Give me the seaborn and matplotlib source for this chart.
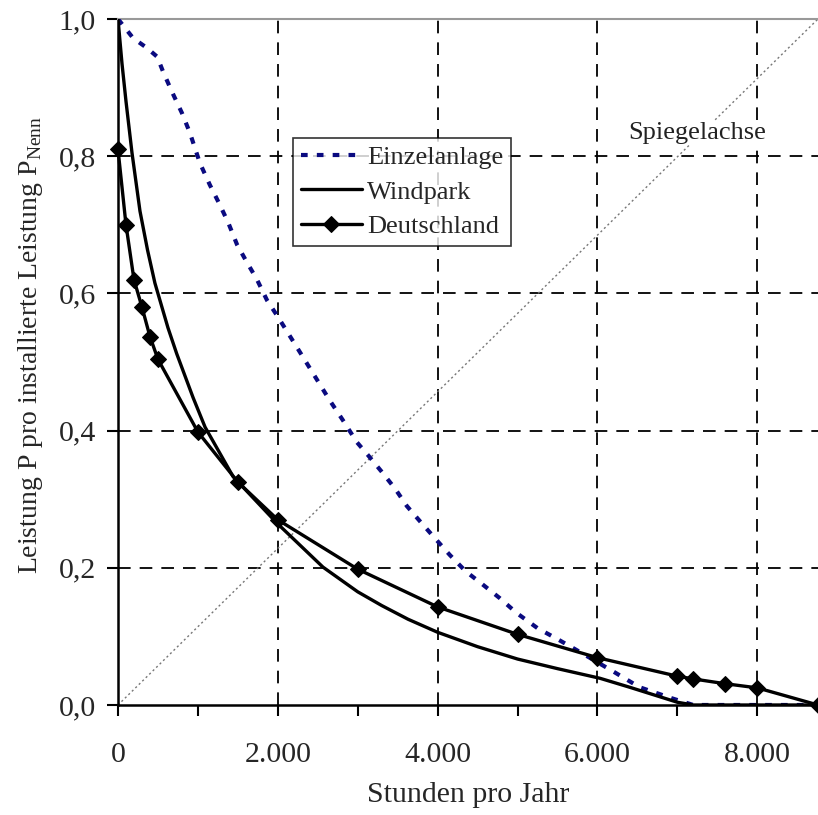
import numpy as np
import pandas as pd
import matplotlib
matplotlib.use('Agg')
import matplotlib.pyplot as plt
import seaborn as sns

# Daten
einzel_h = [0, 190, 360, 490, 565, 675, 800, 900, 1025, 1150, 1275, 1380, 1490, 1610, 1740,
            1865, 2000, 2300, 2650, 2815, 2990, 3130, 3300, 3470, 3615, 3800, 3990, 4150,
            4350, 4560, 4775, 4990, 5250, 5500, 5740, 6210, 6525, 6925, 7200, 8760]
einzel_p = [1.0, 0.972, 0.958, 0.945, 0.923, 0.894, 0.863, 0.834, 0.79, 0.758, 0.729, 0.703,
            0.671, 0.646, 0.62, 0.59, 0.566, 0.51, 0.444, 0.415, 0.383, 0.364, 0.34, 0.315,
            0.29, 0.265, 0.24, 0.219, 0.195, 0.176, 0.156, 0.134, 0.112, 0.096, 0.08, 0.048,
            0.026, 0.01, 0.0, 0.0]

wind_h = [0, 50, 100, 175, 275, 370, 462, 625, 735, 940, 1090, 1440, 1990, 2565, 3000,
          3300, 3630, 4000, 4500, 5000, 5500, 6030, 6400, 7000, 7200, 8760]
wind_p = [1.0, 0.935, 0.88, 0.805, 0.72, 0.663, 0.615, 0.55, 0.512, 0.448, 0.405, 0.333,
          0.265, 0.201, 0.165, 0.145, 0.125, 0.106, 0.085, 0.067, 0.053, 0.039, 0.026,
          0.004, 0.0, 0.0]

de_h = [0, 100, 200, 300, 400, 500, 1000, 1500, 2000, 3000, 4000, 5000, 6000, 7000, 7200,
        7600, 8000, 8760]
de_p = [0.81, 0.70, 0.62, 0.58, 0.537, 0.504, 0.398, 0.325, 0.27, 0.198, 0.143, 0.103,
        0.069, 0.042, 0.038, 0.031, 0.025, 0.0]

spiegel_h = [0, 8760]
spiegel_p = [0.0, 1.0]

xticks = [0, 1000, 2000, 3000, 4000, 5000, 6000, 7000, 8000]
xticklabels = ['0', '', '2.000', '', '4.000', '', '6.000', '', '8.000']
yticks = [0.0, 0.2, 0.4, 0.6, 0.8, 1.0]
yticklabels = ['0,0', '0,2', '0,4', '0,6', '0,8', '1,0']

sns.set_style('white')
plt.rcParams['font.family'] = ['Liberation Serif', 'DejaVu Serif']
plt.rcParams['mathtext.fontset'] = 'custom'
plt.rcParams['mathtext.rm'] = 'Liberation Serif'

fig = plt.figure(figsize=(8.18, 8.15), dpi=100)
ax = fig.add_axes([118 / 818, 1 - 705 / 815, 700 / 818, 686 / 815])

# Gitter
for gx in [2000, 4000, 6000, 8000]:
    ax.axvline(gx, color='black', lw=1.3, dashes=(7, 5), zorder=1)
for gy in [0.2, 0.4, 0.6, 0.8]:
    ax.axhline(gy, color='black', lw=1.3, dashes=(7, 5), zorder=1)

# Spiegelachse
sns.lineplot(x=spiegel_h, y=spiegel_p, ax=ax, color='#777777', lw=1.0,
             linestyle=(0, (1.5, 2)), zorder=2)
ax.text(7246, 0.834, 'Spiegelachse', ha='center', va='center', fontsize=19,
        color='#222222', zorder=3,
        bbox=dict(facecolor='white', edgecolor='none', pad=1))

sns.lineplot(x=einzel_h, y=einzel_p, ax=ax, color='#0a0a80', lw=3,
             linestyle=(0, (1.6, 2.2)), label='Einzelanlage', zorder=4)
sns.lineplot(x=wind_h, y=wind_p, ax=ax, color='black', lw=2.4,
             label='Windpark', zorder=5)
sns.lineplot(x=de_h, y=de_p, ax=ax, color='black', lw=2.4, marker='D',
             markersize=8.5, markeredgecolor='black', label='Deutschland', zorder=6,
             clip_on=False)

ax.set_xlim(0, 8760)
ax.set_ylim(0, 1.0)
ax.set_xticks(xticks)
ax.set_xticklabels(xticklabels, fontsize=21.5)
ax.set_yticks(yticks)
ax.set_yticklabels(yticklabels, fontsize=21.5)
ax.tick_params(axis='both', direction='out', length=8, width=1.5, color='black',
               bottom=True, left=True)
ax.tick_params(axis='x', pad=19)
ax.tick_params(axis='y', pad=8)

for s in ['left', 'bottom']:
    ax.spines[s].set_color('black')
    ax.spines[s].set_linewidth(1.8)
ax.spines['top'].set_color('#999999')
ax.spines['top'].set_linewidth(1.5)
ax.spines['right'].set_visible(False)

ax.set_xlabel('Stunden pro Jahr', fontsize=21.5, labelpad=10)
ax.set_ylabel(r'Leistung P pro installierte Leistung P$_{\mathrm{Nenn}}$', fontsize=20)
ax.yaxis.set_label_coords(-0.104, 0.525)

leg = ax.legend(loc='upper left', bbox_to_anchor=(0.25, 0.827), fontsize=19,
                frameon=True, fancybox=False, edgecolor='black', handlelength=2.3,
                handletextpad=0.2, borderpad=0.3, labelspacing=0.42,
                borderaxespad=0)
leg.get_frame().set_linewidth(1.2)

fig.savefig('out.png', dpi=100)
